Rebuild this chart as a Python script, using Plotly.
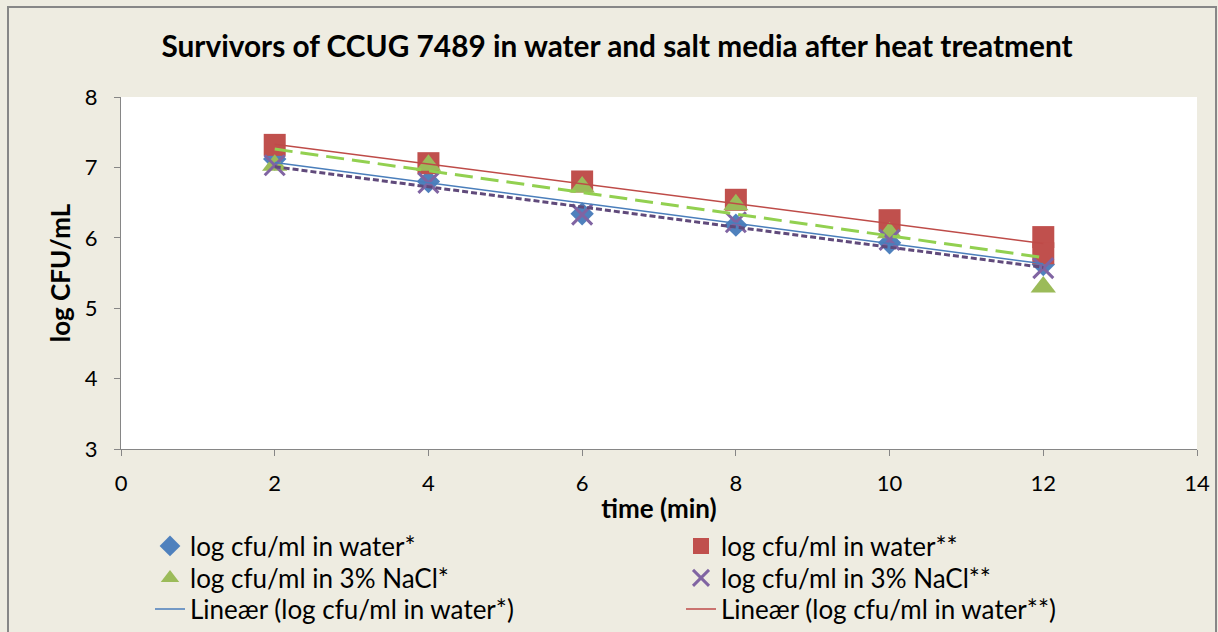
import plotly.graph_objects as go

# ---- data ----
time_min = [2, 4, 6, 8, 10, 12]
water_1 = [7.12, 6.80, 6.34, 6.18, 5.93, 5.62]
water_2_x = [2, 4, 6, 8, 10, 12, 12]
water_2 = [7.32, 7.06, 6.80, 6.54, 6.25, 6.01, 5.78]
nacl_1 = [7.03, 7.03, 6.72, 6.47, 6.07, 5.30]
nacl_2 = [7.03, 6.78, 6.33, 6.22, 5.97, 5.57]

# linear trend lines (Excel "Lineær"), values at x = 2 and x = 12
trend_x = [2, 12]
trend_water_1 = [7.07, 5.63]
trend_water_2 = [7.33, 5.92]
trend_nacl_1 = [7.26, 5.72]
trend_nacl_2 = [7.01, 5.58]

x_ticks = [0, 2, 4, 6, 8, 10, 12, 14]
y_ticks = [3, 4, 5, 6, 7, 8]

FONT = "Lato"
BG = "#EEECE1"
AX = "#868686"

fig = go.Figure()
fig.add_trace(go.Scatter(x=time_min, y=water_1, mode="markers", name="log cfu/ml in water*",
                         legend="legend",
                         marker=dict(symbol="diamond", size=18, color="#4F81BD")))
fig.add_trace(go.Scatter(x=water_2_x, y=water_2, mode="markers", name="log cfu/ml in water**",
                         legend="legend2",
                         marker=dict(symbol="square", size=22, color="#C0504D")))
fig.add_trace(go.Scatter(x=time_min, y=nacl_1, mode="markers", name="log cfu/ml in 3% NaCl*",
                         legend="legend3",
                         marker=dict(symbol="triangle-up", size=22, color="#9BBB59")))
fig.add_trace(go.Scatter(x=time_min, y=nacl_2, mode="markers", name="log cfu/ml in 3% NaCl**",
                         legend="legend4",
                         marker=dict(symbol="x-thin-open", size=20, color="#8064A2",
                                     line=dict(width=3, color="#8064A2"))))
fig.add_trace(go.Scatter(x=trend_x, y=trend_water_1, mode="lines", name="Lineær (log cfu/ml in water*)",
                         legend="legend5",
                         line=dict(color="#4A7EBB", width=1.5)))
fig.add_trace(go.Scatter(x=trend_x, y=trend_water_2, mode="lines", name="Lineær (log cfu/ml in water**)",
                         legend="legend6",
                         line=dict(color="#BE4B48", width=1.5)))
fig.add_trace(go.Scatter(x=trend_x, y=trend_nacl_1, mode="lines", name="Lineær (log cfu/ml in 3% NaCl*)",
                         showlegend=False,
                         line=dict(color="#92D050", width=3, dash="18px,8px")))
fig.add_trace(go.Scatter(x=trend_x, y=trend_nacl_2, mode="lines", name="Lineær (log cfu/ml in 3% NaCl**)",
                         showlegend=False,
                         line=dict(color="#604A7B", width=3, dash="6px,3px")))

L, R, T, B = 121, 21, 97, 183
W, H = 1218, 632
pw, ph = W - L - R, H - T - B

def px_x(p):
    return (p - L) / pw

def px_y(p):
    return (H - B - p) / ph

def item_legend(px, py):
    return dict(orientation="v", x=px_x(px), y=px_y(py), xanchor="left", yanchor="middle",
                font=dict(family=FONT, size=26, color="black"),
                bgcolor="rgba(0,0,0,0)", itemwidth=30)

fig.update_layout(
    width=W, height=H,
    margin=dict(l=L, r=R, t=T, b=B, autoexpand=False),
    paper_bgcolor=BG, plot_bgcolor="white",
    font=dict(family=FONT, size=22, color="black"),
    title=dict(text="<b>Survivors of CCUG 7489 in water and salt media after heat treatment</b>",
               x=617 / W, xanchor="center", y=1 - 47 / H, yanchor="middle",
               font=dict(family=FONT, size=29.8, color="black")),
    xaxis=dict(range=[0, 14], tickvals=x_ticks, showgrid=False, zeroline=False,
               showline=True, linecolor=AX, linewidth=1, ticks="outside", ticklen=6, tickcolor=AX,
               tickfont=dict(size=22), ticklabelstandoff=9,
               title=dict(text="<b>time (min)</b>", font=dict(size=26), standoff=4)),
    yaxis=dict(range=[3, 8], tickvals=y_ticks, showgrid=False, zeroline=False,
               showline=True, linecolor=AX, linewidth=1, ticks="outside", ticklen=6, tickcolor=AX,
               tickfont=dict(size=22), ticklabelstandoff=12,
               title=dict(text="<b>log CFU/mL</b>", font=dict(size=26), standoff=6)),
    legend=item_legend(150, 546),
    legend2=item_legend(681, 546),
    legend3=item_legend(150, 578),
    legend4=item_legend(681, 578),
    legend5=item_legend(150, 609),
    legend6=item_legend(681, 609),
    showlegend=True,
    shapes=[dict(type="rect", xref="paper", yref="paper",
                 x0=px_x(8), x1=px_x(1216), y0=px_y(7), y1=px_y(700),
                 line=dict(color="#878787", width=2), fillcolor="rgba(0,0,0,0)", layer="above")],
)

fig.write_html("out.html", config={"displayModeBar": False},
               post_script="document.body.style.margin='0';document.body.style.overflow='hidden';")
